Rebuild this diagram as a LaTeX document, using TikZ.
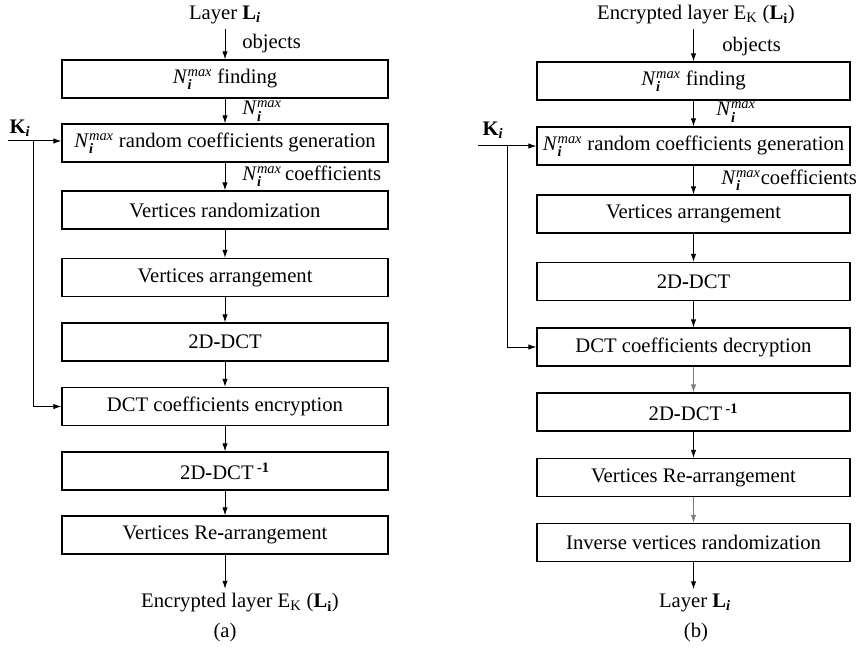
\documentclass[tikz,border=0pt]{standalone}
\usepackage{amsmath}
\usepackage{fontspec}
\setmainfont{Liberation Serif}
\usetikzlibrary{arrows.meta}
\newcommand{\Nmax}{\textit{N}$_{\textbf{\textit{i}}}^{\textit{max}}$}
\newcommand{\Lay}{\textbf{L}$_{\textbf{\textit{i}}}$}
\newcommand{\EncL}{E$_{\text{K}}$ (\textbf{L}$_{\textbf{i}}$)}

\begin{document}
\begin{tikzpicture}[x=0.75pt,y=0.75pt,yscale=-1,xscale=1,
  font=\fontsize{15.5}{18}\selectfont,
  blkA/.style={draw, line width=0.8pt, minimum width=244.5pt, minimum height=28.5pt, inner sep=0pt},
  blkB/.style={draw, line width=0.8pt, minimum width=234.75pt, minimum height=28.5pt, inner sep=0pt},
  flow/.style={-{Latex[length=6pt,width=4pt]}, line width=0.75pt},
  lbl/.style={anchor=west, inner sep=0.75pt}]
%set diagram to the size of the reference
\useasboundingbox (0,0) rectangle (863,649);

% ---------------- (a) encryption ----------------
\node (inA) at (225,15) {Layer \Lay};
\node [blkA] (findA) at (225,79) {\Nmax{} finding};
\node [blkA] (genA) at (225,143) {\Nmax{} random coefficients generation};
\node [blkA] (randA) at (225,210) {Vertices randomization};
\node [blkA] (arrA) at (225,277.5) {Vertices arrangement};
\node [blkA] (dctA) at (225,342) {2D\textbf{-}DCT};
\node [blkA] (encA) at (225,406.5) {DCT coefficients encryption};
\node [blkA] (idctA) at (225,471) {2D\textbf{-}DCT\,\textsuperscript{\textbf{-1}}};
\node [blkA] (rearrA) at (225,535) {Vertices Re\textbf{-}arrangement};
\node (outA) at (240,603) {Encrypted layer \EncL};
\node (capA) at (225,633) {(a)};
\node [inner sep=0.75pt] (keyA) at (20,128) {\textbf{K}$_{\textbf{\textit{i}}}$};
\coordinate (kinA) at (8,141);
\coordinate (ksplitA) at (33,141);

\draw [flow] (inA) -- (findA);
\draw [flow] (findA) -- (genA);
\draw [flow] (genA) -- (randA);
\draw [flow] (randA) -- (arrA);
\draw [flow] (arrA) -- (dctA);
\draw [flow] (dctA) -- (encA);
\draw [flow] (encA) -- (idctA);
\draw [flow] (idctA) -- (rearrA);
\draw [flow] (rearrA.south) -- (rearrA.south |- outA.north);
\draw [flow] (kinA) -- (kinA -| genA.west);
\draw [flow] (ksplitA) |- (encA.west);

\node [lbl] (objA) at (241,44) {objects};
\node [lbl] (nA) at (241,111) {\Nmax};
\node [lbl] (coefA) at (241,176) {\Nmax\,coefficients};

% ---------------- (b) decryption ----------------
\node (inB) at (696,15) {Encrypted layer \EncL};
\node [blkB] (findB) at (693.5,81) {\Nmax{} finding};
\node [blkB] (genB) at (693.5,146) {\Nmax{} random coefficients generation};
\node [blkB] (arrB) at (693.5,214) {Vertices arrangement};
\node [blkB] (dctB) at (693.5,281.5) {2D\textbf{-}DCT};
\node [blkB] (decB) at (693.5,347) {DCT coefficients decryption};
\node [blkB] (idctB) at (693.5,412) {2D\textbf{-}DCT\,\textsuperscript{\textbf{-1}}};
\node [blkB] (rearrB) at (693.5,477.5) {Vertices Re\textbf{-}arrangement};
\node [blkB] (invB) at (693.5,542.5) {Inverse vertices randomization};
\node (outB) at (695,603) {Layer \Lay};
\node (capB) at (696,633) {(b)};
\node [inner sep=0.75pt] (keyB) at (493,130) {\textbf{K}$_{\textbf{\textit{i}}}$};
\coordinate (kinB) at (478,146);
\coordinate (ksplitB) at (507,146);

\draw [flow] (inB.south -| findB.north) -- (findB.north);
\draw [flow] (findB) -- (genB);
\draw [flow] (genB) -- (arrB);
\draw [flow] (arrB) -- (dctB);
\draw [flow] (dctB) -- (decB);
\draw [flow, gray] (decB) -- (idctB);
\draw [flow] (idctB) -- (rearrB);
\draw [flow, gray] (rearrB) -- (invB);
\draw [flow] (invB.south) -- (invB.south |- outB.north);
\draw [flow] (kinB) -- (genB.west);
\draw [flow] (ksplitB) |- (decB.west);

\node [lbl] (objB) at (721,47) {objects};
\node [lbl] (nB) at (715,112) {\Nmax};
\node [lbl] (coefB) at (720,180) {\Nmax coefficients};

\end{tikzpicture}
\end{document}
